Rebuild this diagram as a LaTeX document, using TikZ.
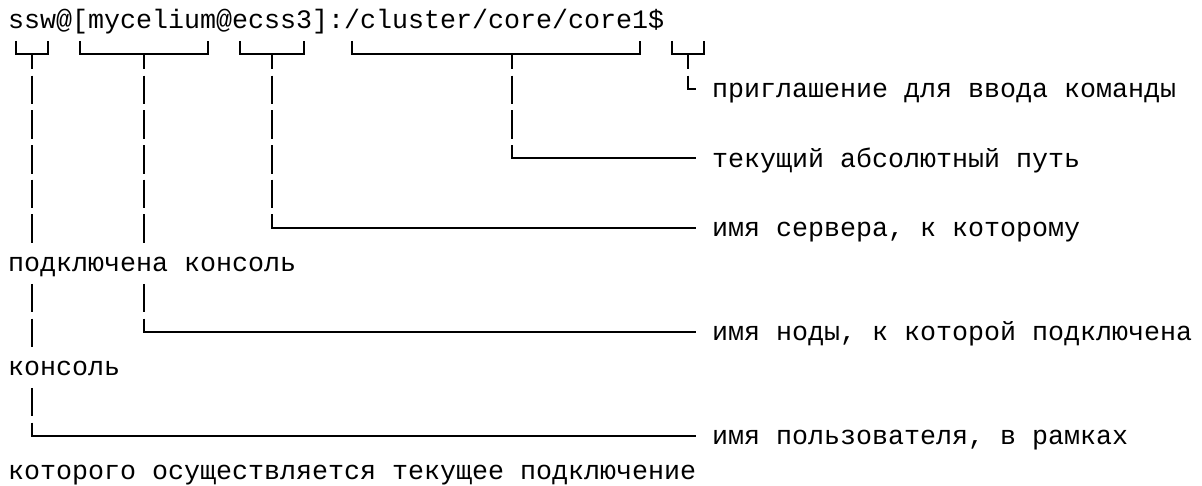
\documentclass[tikz,border=0pt]{standalone}
\usepackage{fontspec}
\newfontfamily\promptfont{Liberation Mono}
\newcommand\colx[1]{(16+16*(#1))}
\newcommand\rowbase[1]{(28.4+34.7*((#1)-1))}
\newcommand\rowtop[1]{(\rowbase{#1}-22.2)}
\newcommand\rowbot[1]{(\rowbase{#1}+6.3)}
\newcommand\rowmid[1]{(\rowbase{#1}-8.9)}
\begin{document}
\begin{tikzpicture}[x=1pt,y=-1pt,
  txt/.style={anchor=base west, inner sep=0pt, font=\promptfont\fontsize{26.66}{34.7}\selectfont, text=black},
  conn/.style={line width=1.9pt, line join=miter, line cap=butt, black}]
\useasboundingbox (0,0) rectangle (1202,485);
% texts
\node[txt] (prompt) at (8,{\rowbase{1}}) {ssw@[mycelium@ecss3]:/cluster/core/core1\$};
\node[txt] (lprompt) at (712,{\rowbase{3}}) {приглашение для ввода команды};
\node[txt] (lpath) at (712,{\rowbase{5}}) {текущий абсолютный путь};
\node[txt] (lserver) at (712,{\rowbase{7}}) {имя сервера, к которому};
\node[txt] (lserver2) at (8,{\rowbase{8}}) {подключена консоль};
\node[txt] (lnode) at (712,{\rowbase{10}}) {имя ноды, к которой подключена};
\node[txt] (lnode2) at (8,{\rowbase{11}}) {консоль};
\node[txt] (luser) at (712,{\rowbase{13}}) {имя пользователя, в рамках};
\node[txt] (luser2) at (8,{\rowbase{14}}) {которого осуществляется текущее подключение};
% brackets under the prompt
\foreach \lc/\mc/\rc in {0/1/2,4/8/12,14/16/18,21/31/39,41/42/43}{
  \draw[conn] ({\colx{\lc}},{\rowtop{2}}) |- ({\colx{\rc}},{\rowmid{2}}) -- ({\colx{\rc}},{\rowtop{2}});
  \draw[conn] ({\colx{\mc}},{\rowmid{2}}) -- ({\colx{\mc}},{\rowbot{2}});
}
% vertical stems
\foreach \cc/\rr in {1/3,1/4,1/5,1/6,1/7,1/9,1/10,1/12,
                     8/3,8/4,8/5,8/6,8/7,8/9,
                     16/3,16/4,16/5,16/6,
                     31/3,31/4}{
  \draw[conn] ({\colx{\cc}},{\rowtop{\rr}}) -- ({\colx{\cc}},{\rowbot{\rr}});
}
% corners leading to labels
\foreach \cc/\rr in {42/3,31/5,16/7,8/10,1/13}{
  \draw[conn] ({\colx{\cc}},{\rowtop{\rr}}) |- (696,{\rowmid{\rr}});
}
\end{tikzpicture}
\end{document}
